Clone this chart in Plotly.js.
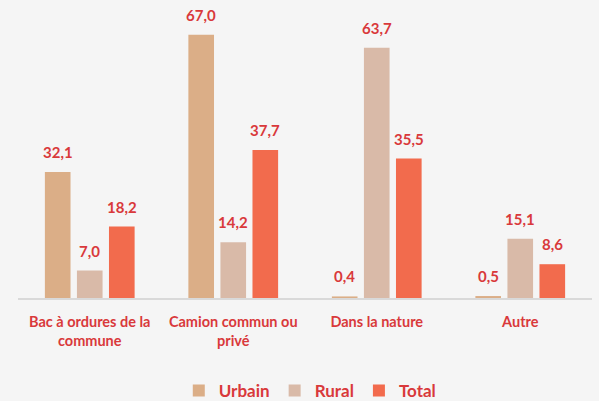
<!DOCTYPE html>
<html><head><meta charset="utf-8">
<script src="https://cdn.plot.ly/plotly-3.0.1.min.js"></script>
<style>html,body{margin:0;padding:0;background:#f5f5f5}</style>
</head><body>
<div id="chart" style="width:599px;height:401px"></div>
<script>
const categories = ["Bac à ordures de la<br>commune", "Camion commun ou<br>privé", "Dans la nature", "Autre"];
const urbain = [32.1, 67.0, 0.4, 0.5];
const rural = [7.0, 14.2, 63.7, 15.1];
const total = [18.2, 37.7, 35.5, 8.6];

const seriesNames = ["Urbain", "Rural", "Total"];
const seriesValues = [urbain, rural, total];
const colors = ["#dbae87", "#d9baa8", "#f26b4d"];
const labelColor = "#d9393b";
const fontFam = "Lato, 'Open Sans', sans-serif";

const traces = seriesValues.map((vals, i) => ({
  type: "bar", name: seriesNames[i], x: categories, y: vals,
  marker: {color: colors[i]}, hoverinfo: "skip"
}));

const shifts = [-32, 0, 32];
const annotations = [];
seriesValues.forEach((vals, i) => {
  vals.forEach((v, j) => {
    annotations.push({
      x: categories[j], y: v, xref: "x", yref: "y",
      text: v.toFixed(1).replace(".", ","),
      showarrow: false, xanchor: "center", yanchor: "bottom",
      xshift: shifts[i], yshift: 9,
      font: {family: fontFam, size: 15, color: labelColor, weight: "bold"}
    });
  });
});

const layout = {
  width: 599, height: 401,
  paper_bgcolor: "#f5f5f5", plot_bgcolor: "#f5f5f5",
  margin: {l: 18, r: 7, t: 23, b: 103, autoexpand: false},
  barmode: "group", bargap: 0.33, bargroupgap: 0.2,
  showlegend: true,
  legend: {orientation: "h", x: 0.518, xanchor: "center", xref: "container",
    y: 0.025, yanchor: "middle", yref: "container", itemwidth: 30,
    font: {family: fontFam, size: 17, color: labelColor, weight: "bold"}, traceorder: "normal"},
  xaxis: {type: "category", showline: true, linecolor: "#d9d9d9", linewidth: 1.5,
    ticks: "", showgrid: false, automargin: false, ticklabelstandoff: 10,
    tickfont: {family: fontFam, size: 14.5, color: labelColor, weight: "bold"}},
  yaxis: {range: [0, 70], visible: false, showgrid: false, zeroline: false},
  annotations: annotations
};

Plotly.newPlot("chart", traces, layout, {displayModeBar: false, staticPlot: true});
</script>
</body></html>
